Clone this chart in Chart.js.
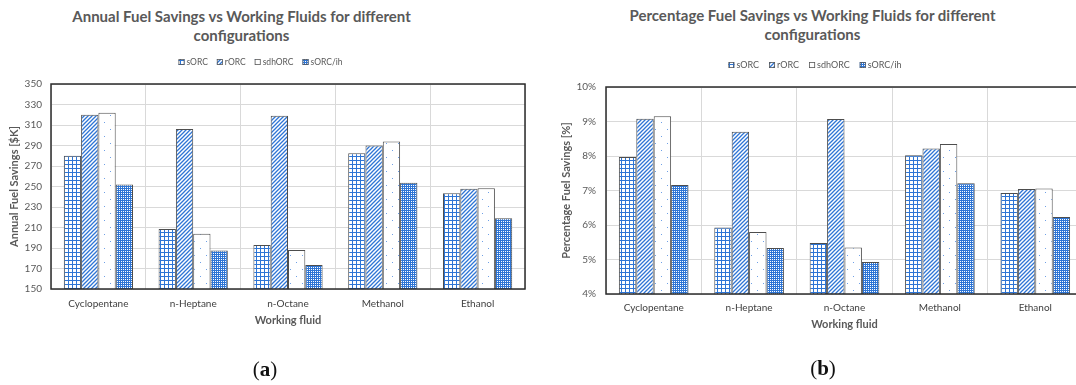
<!DOCTYPE html>
<html>
<head>
<meta charset="utf-8">
<script src="https://cdn.jsdelivr.net/npm/chart.js@4.4.1/dist/chart.umd.min.js"></script>
<style>
  html, body { margin: 0; padding: 0; background: #fff; width: 1076px; height: 385px; overflow: hidden; position: relative; }
  .panel { position: absolute; top: 0; }
  .title { position: absolute; font-family: Lato, "Open Sans", sans-serif; font-weight: bold; font-size: 15px;
           color: #595959; text-align: center; line-height: 19px; white-space: nowrap; transform: translateX(-50%); }
  .tag { position: absolute; font-family: "Liberation Serif", "DejaVu Serif", serif; font-size: 21px; color: #111;
         transform: translate(-50%, -50%); white-space: nowrap; }
  .tag b { font-weight: bold; }
</style>
</head>
<body>
<div class="title" style="left:241.5px; top:7px;">Annual Fuel Savings vs Working Fluids for different<br>configurations</div>
<div class="title" style="left:812.5px; top:6px;">Percentage Fuel Savings vs Working Fluids for different<br>configurations</div>
<div class="panel" style="left:0px;"><canvas id="chartA" width="540" height="385"></canvas></div>
<div class="panel" style="left:545px;"><canvas id="chartB" width="540" height="385"></canvas></div>
<div class="tag" style="left:265px; top:369px;">(<b>a</b>)</div>
<div class="tag" style="left:823px; top:368px;">(<b>b</b>)</div>

<script>
// Working fluids on the category axis and the four cycle configurations
const fluids = ['Cyclopentane', 'n-Heptane', 'n-Octane', 'Methanol', 'Ethanol'];
const configs = ['sORC', 'rORC', 'sdhORC', 'sORC/ih'];

// Annual fuel savings [$K]
const annualSORC   = [280, 208.5, 193, 282.5, 243.5];
const annualRORC   = [320, 306, 319, 290, 247.7];
const annualSDHORC = [322, 204, 188, 294, 248.4];
const annualSORCih = [252, 187.6, 173.4, 253.6, 219];

// Percentage fuel savings [%]
const pctSORC   = [7.97, 5.93, 5.48, 8.02, 6.93];
const pctRORC   = [9.08, 8.70, 9.07, 8.22, 7.04];
const pctSDHORC = [9.15, 5.80, 5.35, 8.35, 7.06];
const pctSORCih = [7.16, 5.33, 4.93, 7.21, 6.23];

// Value-axis ranges
const annualAxis = { min: 150, max: 350, step: 20 };
const pctAxis = { min: 4, max: 10, step: 1 };

const BLUE = '#2E75D5';
const FONT = 'Lato, "Open Sans", sans-serif';

// Hatch fills for the four configurations
function makePattern(w, h, draw) {
  const c = document.createElement('canvas');
  c.width = w; c.height = h;
  const g = c.getContext('2d');
  g.fillStyle = '#fff';
  g.fillRect(0, 0, w, h);
  draw(g, w, h);
  return g.createPattern(c, 'repeat');
}
const gridFill = makePattern(4, 4, (g, w, h) => {
  g.fillStyle = BLUE;
  g.fillRect(0, 0, w, 1);
  g.fillRect(0, 0, 1, h);
});
const diagFill = makePattern(4, 4, (g, s) => {
  g.strokeStyle = BLUE;
  g.lineWidth = 1.3;
  g.beginPath();
  g.moveTo(-1, 1); g.lineTo(1, -1);
  g.moveTo(0, s); g.lineTo(s, 0);
  g.moveTo(s - 1, s + 1); g.lineTo(s + 1, s - 1);
  g.stroke();
});
const dotFill = makePattern(12, 14, (g) => {
  g.fillStyle = '#6fa0e6';
  g.fillRect(2, 3, 1, 1);
  g.fillRect(8, 10, 1, 1);
});
const checkFill = makePattern(4, 4, (g, w, h) => {
  g.fillStyle = BLUE;
  g.fillRect(0, 0, w, h);
  g.fillStyle = '#fff';
  g.fillRect(1, 1, 1, 1);
  g.fillRect(3, 3, 1, 1);
  g.fillRect(1, 3, 1, 1);
  g.fillRect(3, 1, 1, 1);
});
const fills = [gridFill, diagFill, dotFill, checkFill];

// Legend drawn as a centred row of patterned swatches
const patternLegend = {
  id: 'patternLegend',
  afterDraw(chart, args, opts) {
    const ctx = chart.ctx;
    ctx.save();
    ctx.font = opts.font;
    const items = chart.data.datasets.map(ds => ({
      label: ds.label, fill: ds.backgroundColor, w: ctx.measureText(ds.label).width
    }));
    const total = items.reduce((s, it) => s + opts.box + opts.gap + it.w, 0) + opts.spacing * (items.length - 1);
    let x = opts.centerX - total / 2;
    const y = opts.y;
    ctx.textBaseline = 'middle';
    ctx.textAlign = 'left';
    for (const it of items) {
      ctx.fillStyle = it.fill;
      ctx.fillRect(x, y - opts.box / 2, opts.box, opts.box);
      ctx.strokeStyle = '#595959';
      ctx.lineWidth = 0.8;
      ctx.strokeRect(x + 0.4, y - opts.box / 2 + 0.4, opts.box - 0.8, opts.box - 0.8);
      ctx.fillStyle = opts.color;
      ctx.fillText(it.label, x + opts.box + opts.gap, y);
      x += opts.box + opts.gap + it.w + opts.spacing;
    }
    ctx.restore();
  }
};

// Dark frame around the plot area, on top of the bars
const plotFrame = {
  id: 'plotFrame',
  afterDatasetsDraw(chart) {
    const { ctx, chartArea: a } = chart;
    ctx.save();
    ctx.strokeStyle = '#2b2b2b';
    ctx.lineWidth = 1.5;
    ctx.strokeRect(a.left, a.top, a.right - a.left, a.bottom - a.top);
    ctx.restore();
  }
};

function buildDatasets(series) {
  return series.map((values, i) => ({
    label: configs[i],
    data: values,
    backgroundColor: fills[i],
    borderColor: '#4d4d4d',
    borderWidth: 1,
    borderSkipped: false,
    categoryPercentage: 0.73,
    barPercentage: 1
  }));
}

function buildChart(id, cfg) {
  return new Chart(document.getElementById(id), {
    type: 'bar',
    data: { labels: fluids, datasets: buildDatasets(cfg.series) },
    plugins: [patternLegend, plotFrame],
    options: {
      responsive: false,
      animation: false,
      events: [],
      layout: { padding: cfg.padding },
      plugins: {
        legend: { display: false },
        tooltip: { enabled: false },
        title: { display: false },
        patternLegend: {
          font: cfg.legendFont + 'px ' + FONT, color: '#595959',
          box: 6, gap: 2, spacing: cfg.legendSpacing,
          centerX: cfg.legendX, y: cfg.legendY
        }
      },
      scales: {
        x: {
          grid: { color: '#d9d9d9', lineWidth: 1, drawTicks: false, offset: true },
          border: { display: false },
          ticks: { font: { family: FONT, size: 10 }, color: '#404040', padding: cfg.xTickPad },
          title: {
            display: true, text: 'Working fluid', color: '#595959',
            font: { family: FONT, size: 11, weight: 'bold' }, padding: { top: 0, bottom: 4 }
          },
          afterFit(s) { s.height = cfg.xHeight; }
        },
        y: {
          min: cfg.axis.min, max: cfg.axis.max,
          grid: { color: '#d9d9d9', lineWidth: 1, drawTicks: false },
          border: { display: false },
          ticks: {
            stepSize: cfg.axis.step, padding: cfg.yTickPad,
            font: { family: FONT, size: 10 }, color: '#595959',
            callback: cfg.tickFormat
          },
          title: {
            display: true, text: cfg.yTitle, color: '#595959',
            font: { family: FONT, size: 11, weight: 'bold' }, padding: { top: cfg.yTitlePad, bottom: 0 }
          },
          afterFit(s) { s.width = cfg.yWidth; }
        }
      }
    }
  });
}

buildChart('chartA', {
  series: [annualSORC, annualRORC, annualSDHORC, annualSORCih],
  axis: annualAxis,
  yTitle: 'Annual Fuel Savings [$K]',
  tickFormat: v => v,
  padding: { top: 84, left: 0, right: 15, bottom: 54 },
  xHeight: 42, yWidth: 51,
  xTickPad: 9, yTickPad: 9, yTitlePad: 8,
  legendX: 260.5, legendY: 62, legendFont: 8.5, legendSpacing: 9
});

buildChart('chartB', {
  series: [pctSORC, pctRORC, pctSDHORC, pctSORCih],
  axis: pctAxis,
  yTitle: 'Percentage Fuel Savings [%]',
  tickFormat: v => v + '%',
  padding: { top: 87, left: 0, right: 2, bottom: 50 },
  xHeight: 41, yWidth: 61,
  xTickPad: 8, yTickPad: 10, yTitlePad: 15,
  legendX: 270, legendY: 65, legendFont: 9, legendSpacing: 10
});
</script>
</body>
</html>
